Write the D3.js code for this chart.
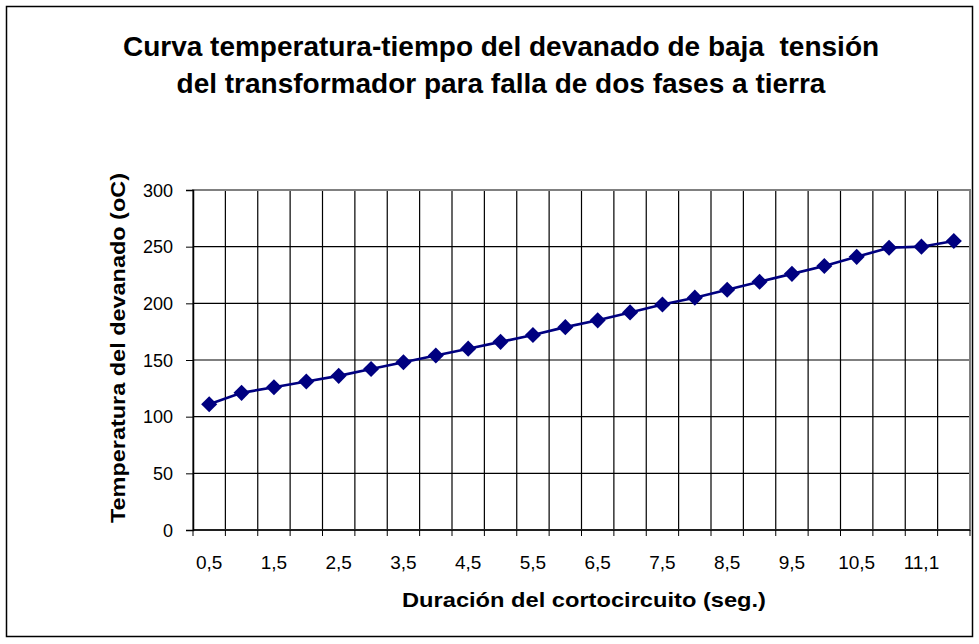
<!DOCTYPE html>
<html>
<head>
<meta charset="utf-8">
<script src="https://cdn.jsdelivr.net/npm/d3@7"></script>
<style>
  html, body { margin: 0; padding: 0; background: #fff; }
  svg { display: block; font-family: "Liberation Sans", Arial, sans-serif; }
</style>
</head>
<body>
<svg id="chart" width="979" height="644"></svg>
<script>
// Short-circuit duration (s) and winding temperature (°C)
const categories = ["0,5","1","1,5","2","2,5","3","3,5","4","4,5","5","5,5","6",
                    "6,5","7","7,5","8","8,5","9","9,5","10","10,5","11","11,1","11,3"];
const temperatures = [111,121,126,131,136,142,148,154,160,166,172,179,
                      185,192,199,205,212,219,226,233,241,249,250,255];
const yTicks = [0,50,100,150,200,250,300];
const titleLines = ["Curva temperatura-tiempo del devanado de baja  tensión",
                    "del transformador para falla de dos fases a tierra"];
const xTitle = "Duración del cortocircuito (seg.)";
const yTitle = "Temperatura del devanado (oC)";

const svg = d3.select("#chart");
const FONT = "'Liberation Sans', Arial, sans-serif";
const plot = {left: 193, right: 970, top: 190, bottom: 530};

// outer chart frame
svg.append("rect")
  .attr("x", 6.5).attr("y", 6.5)
  .attr("width", 966).attr("height", 630)
  .attr("fill", "#fff").attr("stroke", "#000").attr("stroke-width", 1.5);

const x = d3.scaleBand().domain(categories).range([plot.left, plot.right]).padding(0);
const y = d3.scaleLinear().domain([0, 300]).range([plot.bottom, plot.top]);

// horizontal gridlines
svg.append("g").selectAll("line")
  .data(yTicks.filter(v => v > 0))
  .join("line")
  .attr("x1", plot.left).attr("x2", plot.right)
  .attr("y1", d => y(d)).attr("y2", d => y(d))
  .attr("stroke", "#000").attr("stroke-width", 1.2);

// vertical gridlines at category boundaries
svg.append("g").selectAll("line")
  .data(categories.slice(1))
  .join("line")
  .attr("x1", d => x(d)).attr("x2", d => x(d))
  .attr("y1", plot.top).attr("y2", plot.bottom)
  .attr("stroke", "#000").attr("stroke-width", 1.2);

// plot area border
svg.append("rect")
  .attr("x", plot.left).attr("y", plot.top)
  .attr("width", plot.right - plot.left).attr("height", plot.bottom - plot.top)
  .attr("fill", "none").attr("stroke", "#808080").attr("stroke-width", 2);

// y axis
const yAxis = d3.axisLeft(y).tickValues(yTicks).tickSize(7).tickPadding(13);
const gy = svg.append("g").attr("transform", `translate(${plot.left},0)`).call(yAxis);
gy.select(".domain").attr("stroke", "#000").attr("stroke-width", 1.5);
gy.selectAll(".tick line").attr("stroke", "#000");
gy.selectAll(".tick text").attr("font-size", 18).attr("fill", "#000")
  .attr("font-family", FONT).attr("dy", "0.34em");

// x axis: ticks at category boundaries, labels on every other category
const gx = svg.append("g").attr("transform", `translate(0,${plot.bottom})`);
gx.append("line").attr("x1", plot.left).attr("x2", plot.right)
  .attr("stroke", "#000").attr("stroke-width", 1.5);
gx.selectAll("line.tick")
  .data(categories.concat(["end"]))
  .join("line").attr("class", "tick")
  .attr("x1", (d, i) => i < categories.length ? x(d) : plot.right)
  .attr("x2", (d, i) => i < categories.length ? x(d) : plot.right)
  .attr("y1", 0).attr("y2", 6)
  .attr("stroke", "#000");
gx.selectAll("text")
  .data(categories.filter((d, i) => i % 2 === 0))
  .join("text")
  .attr("x", d => x(d) + x.bandwidth() / 2)
  .attr("y", 39)
  .attr("text-anchor", "middle")
  .attr("font-size", 19)
  .text(d => d);

// series line and diamond markers
const pts = categories.map((c, i) => [x(c) + x.bandwidth() / 2, y(temperatures[i])]);
svg.append("path")
  .attr("d", d3.line()(pts))
  .attr("fill", "none").attr("stroke", "#000080").attr("stroke-width", 2.6);
svg.append("g").selectAll("path")
  .data(pts)
  .join("path")
  .attr("d", d3.symbol(d3.symbolDiamond2, 165)())
  .attr("transform", d => `translate(${d[0]},${d[1]})`)
  .attr("fill", "#000080");

// titles
const title = svg.append("text")
  .attr("text-anchor", "middle")
  .attr("font-weight", "bold").attr("font-size", 28)
  .style("white-space", "pre");
title.selectAll("tspan").data(titleLines).join("tspan")
  .attr("x", 501).attr("y", (d, i) => 56 + i * 37)
  .text(d => d);

svg.append("text")
  .attr("x", 584).attr("y", 607)
  .attr("text-anchor", "middle")
  .attr("font-weight", "bold").attr("font-size", 21)
  .attr("textLength", 364).attr("lengthAdjust", "spacingAndGlyphs")
  .text(xTitle);

svg.append("text")
  .attr("transform", `translate(125,348) rotate(-90)`)
  .attr("text-anchor", "middle")
  .attr("font-weight", "bold").attr("font-size", 21)
  .attr("textLength", 350).attr("lengthAdjust", "spacingAndGlyphs")
  .text(yTitle);
</script>
</body>
</html>
